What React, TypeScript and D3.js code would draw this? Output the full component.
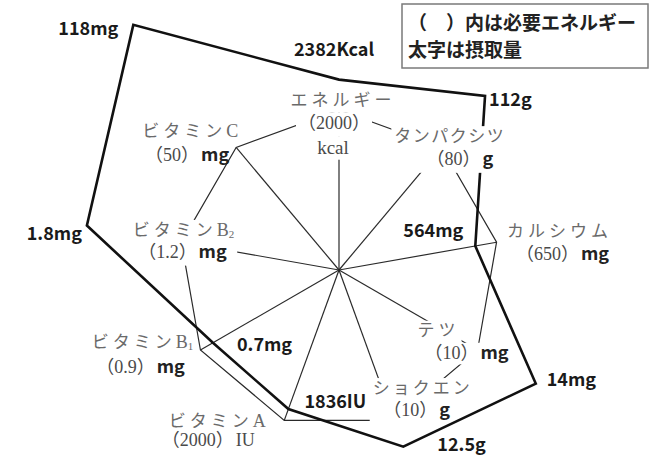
import React, { useEffect, useRef } from 'react';
import * as d3 from 'd3';

// nutrients, clockwise from the top
const nutrients = ['エネルギー', 'タンパクシツ', 'カルシウム', 'テツ', 'ショクエン', 'ビタミンA', 'ビタミンB1', 'ビタミンB2', 'ビタミンC'];
const required = ['2000', '80', '650', '10', '10', '2000', '0.9', '1.2', '50'];
const units = ['kcal', 'g', 'mg', 'mg', 'g', 'IU', 'mg', 'mg', 'mg'];
const intakeLabels = ['2382Kcal', '112g', '564mg', '14mg', '12.5g', '1836IU', '0.7mg', '1.8mg', '118mg'];
// intake as drawn in the figure, in multiples of the requirement
const intakeLevel = [1.19, 1.42, 0.865, 1.42, 1.175, 0.925, 0.91, 1.6, 2.0];
const legendLines = ['（　）内は必要エネルギー', '太字は摂取量'];

// label offsets from the requirement point: [name dx, name dy, value dx, value dy]
const reqLabelOffset = [
  [4, -4, -5, 19],
  [8, -5, 18, 18],
  [63, -5, 66, 18],
  [-39, -14, -11, 9],
  [29, -26, 23, -4],
  [-67, 7, -76, 26],
  [-58, -2, -60, 23],
  [2, -6, 1, 16],
  [-46, -10, -49, 14],
];
// letter spacing of the names
const nameSpacing = [4, 1.5, 4, 4, 3, 4, 4, 4, 4];
// how a label hides the lines under it ('top' also covers the intake line)
const knockout = ['line', 'top', 'none', 'line', 'block', 'none', 'none', 'block', 'none'];
// intake label offsets from the intake point
const intakeLabelOffset: [number, number, string][] = [
  [-5, -24, 'middle'],
  [4, 10, 'start'],
  [-12, -9, 'end'],
  [11, 2, 'start'],
  [34, 4, 'start'],
  [16, -1, 'start'],
  [24, 8, 'start'],
  [-5, 14, 'end'],
  [-15, 10, 'end'],
];

const W = 661, H = 455;
const cx = 339, cy = 270;
const R = 160;
const serif = '"Liberation Serif", "Noto Sans CJK JP", serif';
const gothic = '"Noto Sans CJK JP", "Liberation Sans", sans-serif';

export default function App() {
  const ref = useRef<SVGSVGElement>(null);

  useEffect(() => {
    document.body.style.margin = '0';
    const svg = d3.select(ref.current);
    svg.selectAll('*').remove();

    const n = nutrients.length;
    const angle = d3.scaleLinear().domain([0, n]).range([0, 2 * Math.PI]);
    const r = d3.scaleLinear().domain([0, 1]).range([0, R]);
    const px = (i: number, lv: number) => r(lv) * Math.sin(angle(i));
    const py = (i: number, lv: number) => -r(lv) * Math.cos(angle(i));

    const g = svg.append('g').attr('transform', `translate(${cx},${cy})`);
    const thinLayer = g.append('g');
    const knockLayer = g.append('g');
    const thickLayer = g.append('g');
    const topKnockLayer = g.append('g');
    const textLayer = g.append('g');

    // spokes
    thinLayer.selectAll('line.spoke')
      .data(nutrients)
      .join('line')
      .attr('class', 'spoke')
      .attr('x1', 0).attr('y1', 0)
      .attr('x2', (d, i) => px(i, 1))
      .attr('y2', (d, i) => py(i, 1))
      .attr('stroke', '#2a2a2a')
      .attr('stroke-width', 1.2);

    const radar = d3.lineRadial<number>()
      .angle((d, i) => angle(i))
      .radius(d => r(d))
      .curve(d3.curveLinearClosed);

    // requirement ring
    thinLayer.append('path')
      .attr('d', radar(nutrients.map(() => 1)))
      .attr('fill', 'none')
      .attr('stroke', '#2a2a2a')
      .attr('stroke-width', 1.2);

    // intake
    thickLayer.append('path')
      .attr('d', radar(intakeLevel))
      .attr('fill', 'none')
      .attr('stroke', '#111')
      .attr('stroke-width', 2.6)
      .attr('stroke-linejoin', 'miter');

    // requirement labels
    nutrients.forEach((name, i) => {
      const [ndx, ndy, vdx, vdy] = reqLabelOffset[i];
      const tr = `translate(${px(i, 1)},${py(i, 1)})`;
      const lg = textLayer.append('g').attr('transform', tr);
      const lines: { el: any; base: number; fs: number }[] = [];

      // split a trailing latin letter (and subscript digit) off the katakana
      const m = name.match(/^(.*?)([A-Z])(\d?)$/);
      const t1 = lg.append('text')
        .attr('x', ndx).attr('y', ndy)
        .attr('text-anchor', 'middle')
        .style('font-family', serif)
        .style('font-size', '17px')
        .attr('fill', '#6a6a6a');
      if (m) {
        t1.append('tspan').style('letter-spacing', `${nameSpacing[i]}px`).text(m[1]);
        t1.append('tspan').style('font-size', '18px').text(m[2]);
        if (m[3]) {
          t1.append('tspan')
            .attr('dy', 2)
            .style('font-size', '11px')
            .text(m[3]);
        }
      } else {
        t1.style('letter-spacing', `${nameSpacing[i]}px`).text(name);
      }
      lines.push({ el: t1, base: ndy, fs: 17 });

      const serifUnit = units[i] === 'kcal' || units[i] === 'IU';
      const t2 = lg.append('text')
        .attr('x', vdx).attr('y', vdy)
        .attr('text-anchor', 'middle')
        .style('font-family', serif)
        .style('font-size', '18px')
        .attr('fill', '#4a4a4a')
        .text(`（${required[i]}）`);
      if (units[i] !== 'kcal') {
        t2.append('tspan')
          .attr('dx', 2)
          .style('font-family', serifUnit ? serif : gothic)
          .style('font-weight', serifUnit ? 400 : 700)
          .attr('fill', serifUnit ? '#4a4a4a' : '#222')
          .text(units[i]);
      }
      lines.push({ el: t2, base: vdy, fs: 18 });

      if (units[i] === 'kcal') {
        const t3 = lg.append('text')
          .attr('x', vdx - 1).attr('y', vdy + 25)
          .attr('text-anchor', 'middle')
          .style('font-family', serif)
          .style('font-size', '19px')
          .attr('fill', '#4a4a4a')
          .text(units[i]);
        lines.push({ el: t3, base: vdy + 25, fs: 19 });
      }

      // white boxes so the lines stop at the label
      const boxes = lines.map((l, k) => {
        const bb = (l.el.node() as SVGTextElement).getBBox();
        const top = l.base - 0.9 * l.fs;
        const next = lines[k + 1];
        const bottom = next ? next.base - 0.9 * next.fs : l.base + 0.3 * l.fs;
        return { x0: bb.x - 2, x1: bb.x + bb.width + 2, y0: top, y1: bottom };
      });
      let rects = boxes;
      if (knockout[i] === 'block' || knockout[i] === 'top') {
        rects = [{
          x0: d3.min(boxes, b => b.x0)! - 1,
          x1: d3.max(boxes, b => b.x1)! + 1,
          y0: d3.min(boxes, b => b.y0)! - 1,
          y1: d3.max(boxes, b => b.y1)! + 2,
        }];
      }
      if (knockout[i] !== 'none') {
        const layer = knockout[i] === 'top' ? topKnockLayer : knockLayer;
        const kg = layer.append('g').attr('transform', tr);
        rects.forEach(b => {
          kg.append('rect')
            .attr('x', b.x0).attr('y', b.y0)
            .attr('width', b.x1 - b.x0).attr('height', b.y1 - b.y0)
            .attr('fill', '#fff');
        });
      }
    });

    // intake labels
    textLayer.selectAll('text.intake')
      .data(intakeLabels)
      .join('text')
      .attr('class', 'intake')
      .attr('x', (d, i) => px(i, intakeLevel[i]) + intakeLabelOffset[i][0])
      .attr('y', (d, i) => py(i, intakeLevel[i]) + intakeLabelOffset[i][1])
      .attr('text-anchor', (d, i) => intakeLabelOffset[i][2])
      .style('font-family', gothic)
      .style('font-size', '18px')
      .style('font-weight', 700)
      .attr('fill', '#1a1a1a')
      .text(d => d);

    // legend
    const lgd = svg.append('g').attr('transform', 'translate(402,4)');
    lgd.append('rect')
      .attr('x', 0).attr('y', 0)
      .attr('width', 246).attr('height', 64)
      .attr('fill', '#fff')
      .attr('stroke', '#7a7a7a')
      .attr('stroke-width', 1.5);
    lgd.selectAll('text')
      .data(legendLines)
      .join('text')
      .attr('x', 6)
      .attr('y', (d, i) => 26 + i * 27)
      .style('font-family', gothic)
      .style('font-size', '19px')
      .style('font-weight', 700)
      .attr('fill', '#222')
      .text(d => d);
  }, []);

  return (
    <svg ref={ref} width={W} height={H} style={{ display: 'block', background: '#fff' }} />
  );
}
